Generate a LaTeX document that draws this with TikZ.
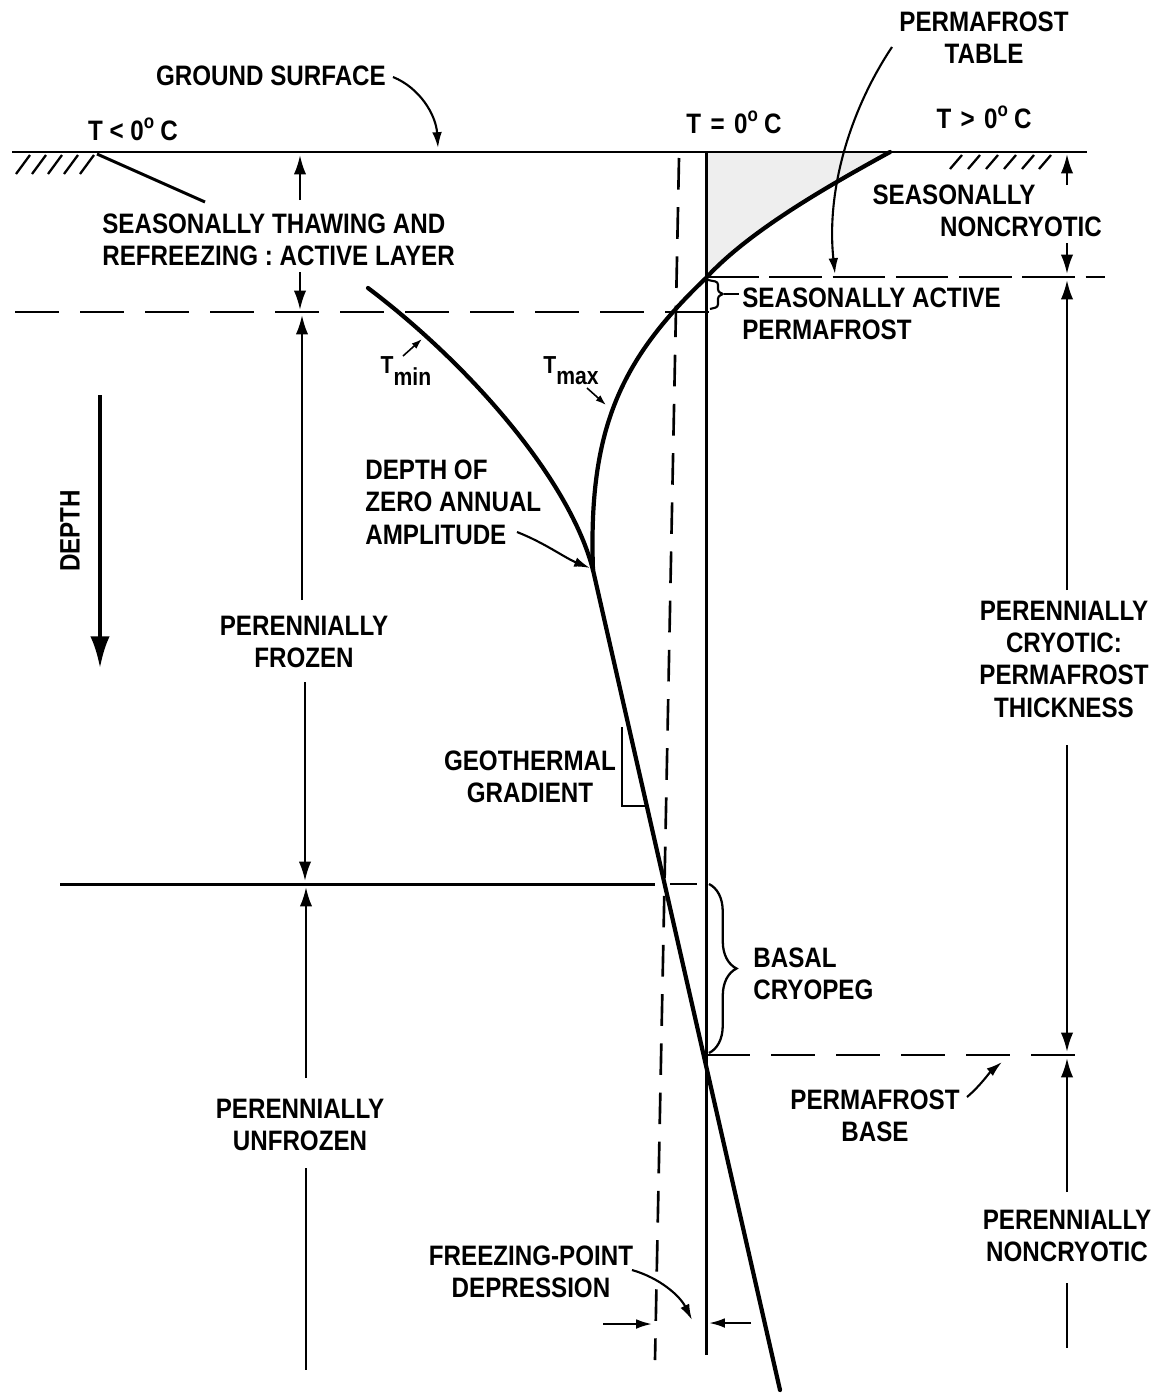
\documentclass[tikz,border=0pt]{standalone}
\usepackage{fontspec}
\setmainfont{Liberation Sans}[FakeStretch=0.86]
\usetikzlibrary{arrows.meta,decorations.pathreplacing}
\newcommand\lblfont{\fontsize{16}{18.4}\selectfont\bfseries}
\newcommand\subfont{\fontsize{14}{16}\selectfont\bfseries}
\begin{document}
\begin{tikzpicture}[x=0.02cm,y=-0.02cm,
  lbl/.style={font=\lblfont, inner sep=0pt, align=center},
  lbll/.style={font=\lblfont, inner sep=0pt, align=left, anchor=west},
  mainline/.style={line width=1.7pt},
  tcurve/.style={line width=2.4pt, line cap=round},
  hdash/.style={line width=1.5pt, dash pattern=on 25pt off 12pt},
  tdash/.style={line width=1.5pt, dash pattern=on 30pt off 6pt},
  vdash/.style={line width=1.5pt, dash pattern=on 18pt off 10pt},
  dimarrow/.style={line width=1.3pt, -{Latex[length=11pt,width=7pt]}},
  dimline/.style={line width=1.3pt},
  ptr/.style={line width=1.2pt, -{Latex[length=9pt,width=5.5pt]}},
  tinyptr/.style={line width=0.9pt, -{Latex[length=6pt,width=4pt]}},
  hatch/.style={line width=1.3pt},
]
\useasboundingbox (0,0) rectangle (1156,1393);

% ---------- key coordinates ----------
\coordinate (gL) at (12,152);
\coordinate (gR) at (1087,152);
\coordinate (zTop) at (706,152);
\coordinate (zBot) at (706,1355);
\coordinate (dTop) at (679,158);
\coordinate (dBot) at (655,1360);
\coordinate (meet) at (593,570);
\coordinate (lineEnd) at (780,1390);
\coordinate (tmaxTop) at (890,152);
\coordinate (ptable) at (706,278);
\coordinate (tminTop) at (368,288);

% ---------- light shading between T=0 and Tmax near surface ----------
\fill[gray!13] (zTop) -- (tmaxTop) .. controls (830,185) and (750,230) .. (ptable) -- cycle;

% ---------- ground surface ----------
\draw[mainline] (gL) -- (gR);
\foreach \x in {30,46,62,78,94} \draw[hatch] (\x,155) -- (\x-14,174);
\foreach \x in {962,980,998,1016,1034,1051} \draw[hatch] (\x,155) -- (\x-12,169);
\coordinate (sA) at (97,154);
\coordinate (sB) at (205,202);
\draw[mainline] (sA) -- (sB);

% ---------- T = 0 line and freezing point (dashed) ----------
\draw[mainline] (zTop) -- (zBot);
\draw[vdash] (dTop) -- (dBot);

% ---------- horizontal boundaries ----------
\draw[hdash] (15,312) -- (720,312);
\draw[tdash] (706,277) -- (1105,277);
\draw[mainline] (60,884) -- (655,884);
\draw[line width=1.5pt] (670,884) -- (697,884);
\draw[hdash] (706,1055) -- (1090,1055);

% ---------- temperature curves ----------
\draw[tcurve] (tminTop) .. controls (470,365) and (570,480) .. (meet);
\draw[tcurve] (tmaxTop) .. controls (830,185) and (750,230) .. (ptable)
                        .. controls (620,360) and (588,430) .. (meet);
\draw[tcurve] (meet) -- (lineEnd);

% geothermal gradient triangle
\coordinate (gt1) at (622,727);
\coordinate (gt2) at (622,806);
\coordinate (gt3) at (648,806);
\draw[line width=1.2pt] (gt1) -- (gt2) -- (gt3);

% ---------- braces ----------
\draw[line width=1.2pt, rounded corners=1.5pt] (708,280) -- (718,282) -- (718,292) -- (724,294) -- (718,296) -- (718,307) -- (710,309);
\coordinate (brTip) at (724,294);
\coordinate (brTick) at (739,294);
\draw[line width=1.2pt] (brTip) -- (brTick);
\draw[line width=1.3pt, decorate, decoration={brace, amplitude=0.55cm}] (709,884) -- (709,1053);

% ---------- labels ----------
\node[lbl, anchor=base] (gs) at (271,85) {GROUND SURFACE};
\node[lbl, anchor=base] (tlt) at (133,140) {T < 0\textsuperscript{o}\hspace{3pt}C};
\node[lbl, anchor=base] (teq) at (734,133) {T\,\,=\,\,0\textsuperscript{o}\hspace{3pt}C};
\node[lbl, anchor=base] (tgt) at (984,128) {T\,\,>\,\,0\textsuperscript{o}\hspace{3pt}C};
\node[lbl] (ptab) at (984,38) {PERMAFROST\\TABLE};
\node[lbll] (stha) at (102,240) {SEASONALLY THAWING AND\\REFREEZING : ACTIVE LAYER};
\node[lbl] (snc1) at (954,195) {SEASONALLY};
\node[lbl] (snc2) at (1021,227) {NONCRYOTIC};
\node[lbll] (sapf) at (742,314) {SEASONALLY ACTIVE\\PERMAFROST};
\node[inner sep=0pt, font=\subfont] (tmin) at (406,371) {T\raisebox{-0.45em}{min}};
\node[inner sep=0pt, font=\subfont] (tmax) at (571,371) {T\raisebox{-0.45em}{max}};
\node[lbll] (dza) at (365,502) {DEPTH OF\\ZERO ANNUAL\\AMPLITUDE};
\node[lbl, rotate=90] (depth) at (70,531) {DEPTH};
\node[lbl] (pfro) at (304,642) {PERENNIALLY\\FROZEN};
\node[lbl] (geo) at (530,777) {GEOTHERMAL\\GRADIENT};
\node[lbl] (cryo) at (1064,659) {PERENNIALLY\\CRYOTIC:\\PERMAFROST\\THICKNESS};
\node[lbll] (basal) at (753,974) {BASAL\\CRYOPEG};
\node[lbl] (pbase) at (875,1116) {PERMAFROST\\BASE};
\node[lbl] (punf) at (300,1125) {PERENNIALLY\\UNFROZEN};
\node[lbl] (pnc) at (1067,1236) {PERENNIALLY\\NONCRYOTIC};
\node[lbl] (fpd) at (531,1272) {FREEZING-POINT\\DEPRESSION};

% ---------- depth arrow ----------
\coordinate (dpA) at (100,395);
\coordinate (dpB) at (100,668);
\draw[line width=2.2pt, -{Latex[length=18pt,width=11pt]}] (dpA) -- (dpB);

% ---------- dimension arrows, left ----------
\coordinate (alU) at (300,200); \coordinate (alUt) at (300,155);
\coordinate (alD) at (300,272); \coordinate (alDt) at (300,310);
\draw[dimarrow] (alU) -- (alUt);
\draw[dimarrow] (alD) -- (alDt);
\coordinate (pfU) at (302,600); \coordinate (pfUt) at (302,315);
\coordinate (pfD) at (305,682); \coordinate (pfDt) at (305,881);
\draw[dimarrow] (pfU) -- (pfUt);
\draw[dimarrow] (pfD) -- (pfDt);
\coordinate (puU) at (306,1078); \coordinate (puUt) at (306,887);
\coordinate (puD) at (306,1168); \coordinate (puDe) at (306,1370);
\draw[dimarrow] (puU) -- (puUt);
\draw[dimline] (puD) -- (puDe);

% ---------- dimension arrows, right ----------
\coordinate (snU) at (1067,185); \coordinate (snUt) at (1067,154);
\coordinate (snD) at (1067,243); \coordinate (snDt) at (1067,274);
\draw[dimarrow] (snU) -- (snUt);
\draw[dimarrow] (snD) -- (snDt);
\coordinate (thU) at (1067,590); \coordinate (thUt) at (1067,280);
\coordinate (thD) at (1067,745); \coordinate (thDt) at (1067,1052);
\draw[dimarrow] (thU) -- (thUt);
\draw[dimarrow] (thD) -- (thDt);
\coordinate (ncU) at (1067,1192); \coordinate (ncUt) at (1067,1058);
\coordinate (ncD) at (1067,1283); \coordinate (ncDe) at (1067,1348);
\draw[dimarrow] (ncU) -- (ncUt);
\draw[dimline] (ncD) -- (ncDe);

% ---------- pointer arrows ----------
\coordinate (gsS) at (393,77); \coordinate (gsT) at (438,148);
\draw[ptr] (gsS) .. controls (420,88) and (436,115) .. (gsT);
\coordinate (ptS) at (892,47); \coordinate (ptT) at (835,274);
\draw[ptr] (ptS) .. controls (850,110) and (826,190) .. (ptT);
\coordinate (tnS) at (403,356); \coordinate (tnT) at (422,339);
\draw[tinyptr] (tnS) -- (tnT);
\coordinate (txS) at (587,388); \coordinate (txT) at (606,405);
\draw[tinyptr] (txS) -- (txT);
\coordinate (dzS) at (517,532); \coordinate (dzT) at (590,568);
\draw[ptr] (dzS) .. controls (545,543) and (565,558) .. (dzT);
\coordinate (pbS) at (967,1097); \coordinate (pbT) at (1002,1062);
\draw[ptr] (pbS) .. controls (980,1086) and (990,1072) .. (pbT);
\coordinate (fpS) at (632,1270); \coordinate (fpT) at (692,1320);
\draw[ptr] (fpS) .. controls (660,1278) and (680,1296) .. (fpT);
\coordinate (faS) at (603,1324); \coordinate (faT) at (652,1324);
\draw[ptr] (faS) -- (faT);
\coordinate (fbS) at (751,1323); \coordinate (fbT) at (709,1323);
\draw[ptr] (fbS) -- (fbT);
\end{tikzpicture}
\end{document}
